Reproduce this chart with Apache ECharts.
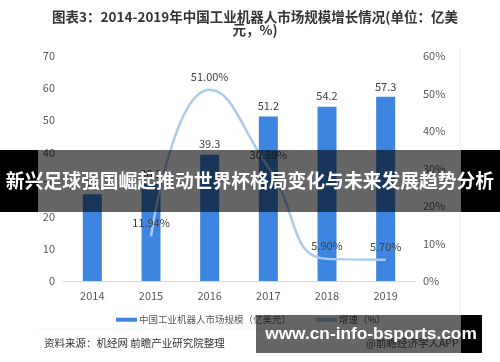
<!DOCTYPE html>
<html><head><meta charset="utf-8">
<script src="https://cdn.jsdelivr.net/npm/echarts@6/dist/echarts.min.js"></script>
<style>html,body{margin:0;padding:0;background:#fff}#c{width:500px;height:362px}</style>
</head><body><div id="c"></div>
<script>
const years = ['2014','2015','2016','2017','2018','2019'];
const marketSize = [27.0, 30.2, 39.3, 51.2, 54.2, 57.3];
const growth = [null, 11.94, 51.00, 30.30, 5.90, 5.70];
const leftTicks = [0, 70, 10];
const rightTicks = [0, 60, 10];
const seriesNames = ['中国工业机器人市场规模（亿美元）', '增速（%）'];

const font = '"Noto Sans CJK SC", "Liberation Sans", sans-serif';
const chart = echarts.init(document.getElementById('c'), null, {renderer: 'canvas'});
chart.setOption({
  animation: false,
  textStyle: {fontFamily: font},
  title: {
    text: '图表3：2014-2019年中国工业机器人市场规模增长情况(单位：亿美\n元，%)',
    left: 250, top: 5, textAlign: 'center',
    textStyle: {fontSize: 13.5, fontWeight: 'bold', color: '#333', lineHeight: 13.5, fontFamily: font}
  },
  grid: {left: 63, right: 85, top: 56, bottom: 81},
  legend: {
    top: 310, left: 111,
    itemGap: 25,
    textStyle: {fontSize: 9.5, color: '#595959', fontFamily: font, padding: [0, 0, 0, -3]},
    data: [
      {name: seriesNames[0], icon: 'rect', itemStyle: {color: '#3d85e0'}},
      {name: seriesNames[1], icon: 'rect', itemStyle: {color: '#a9cbf3'}}
    ],
    itemWidth: 21, itemHeight: 4
  },
  xAxis: {
    type: 'category', data: years,
    axisLine: {lineStyle: {color: '#d9d9d9', width: 1}},
    axisTick: {show: false},
    axisLabel: {color: '#595959', fontSize: 11, margin: 9}
  },
  yAxis: [
    {type: 'value', min: leftTicks[0], max: leftTicks[1], interval: leftTicks[2],
     splitLine: {show: false}, axisLine: {show: false}, axisTick: {show: false},
     axisLabel: {color: '#595959', fontSize: 11, margin: 8}},
    {type: 'value', min: rightTicks[0], max: rightTicks[1], interval: rightTicks[2],
     splitLine: {show: false}, axisLine: {show: false}, axisTick: {show: false},
     axisLabel: {color: '#595959', fontSize: 11, margin: 8, formatter: v => v + '%'}}
  ],
  series: [
    {name: seriesNames[0], type: 'bar', data: marketSize, barWidth: 19,
     itemStyle: {color: '#3d85e0'},
     label: {show: true, position: 'top', color: '#404040', fontSize: 11, distance: 5}},
    {name: seriesNames[1], type: 'line', yAxisIndex: 1, data: growth, smooth: 0.5,
     showSymbol: true, symbol: 'circle', symbolSize: 1, connectNulls: false,
     lineStyle: {color: '#a9cbf3', width: 2.5},
     itemStyle: {color: 'rgba(0,0,0,0)'},
     label: {show: true, position: 'top', color: '#404040', fontSize: 11, distance: 7,
             formatter: p => (p.value == null ? '' : Number(p.value).toFixed(2) + '%')}}
  ],
  graphic: [
    {type: 'line', shape: {x1: 460, y1: 48, x2: 460, y2: 330}, style: {stroke: '#eaf0f8', lineWidth: 1}, z: 1},
    {type: 'line', shape: {x1: 38, y1: 329, x2: 460, y2: 329}, style: {stroke: '#eef2f7', lineWidth: 1}, z: 1},
    {type: 'text', left: 44, top: 338, style: {text: '资料来源：机经网 前瞻产业研究院整理', fill: '#333', font: '10.5px ' + font}, z: 5},
    {type: 'text', left: 366, top: 338, style: {text: '@前瞻经济学人APP', fill: '#555', font: '10.5px ' + font}, z: 5},
    {type: 'rect', shape: {x: 0, y: 150, width: 38, height: 62}, style: {fill: '#000'}, z: 100},
    {type: 'rect', shape: {x: 38, y: 150, width: 423, height: 62}, style: {fill: 'rgba(0,0,0,0.6)'}, z: 100},
    {type: 'rect', shape: {x: 461, y: 150, width: 39, height: 62}, style: {fill: '#000'}, z: 100},
    {type: 'text', x: 250, y: 181, style: {text: '新兴足球强国崛起推动世界杯格局变化与未来发展趋势分析', fill: '#fff',
      font: 'bold 18.8px ' + font, textAlign: 'center', textVerticalAlign: 'middle'}, z: 101},
    {type: 'rect', shape: {x: 256, y: 315, width: 205, height: 38}, style: {fill: 'rgba(0,0,0,0.6)'}, z: 100},
    {type: 'rect', shape: {x: 461, y: 315, width: 21, height: 38}, style: {fill: '#000'}, z: 100},
    {type: 'text', x: 371, y: 334, style: {text: 'www.cn-info-bsports.com', fill: '#fff',
      font: 'bold 17.3px "Liberation Sans", sans-serif', textAlign: 'center', textVerticalAlign: 'middle'}, z: 101}
  ]
});
</script></body></html>
